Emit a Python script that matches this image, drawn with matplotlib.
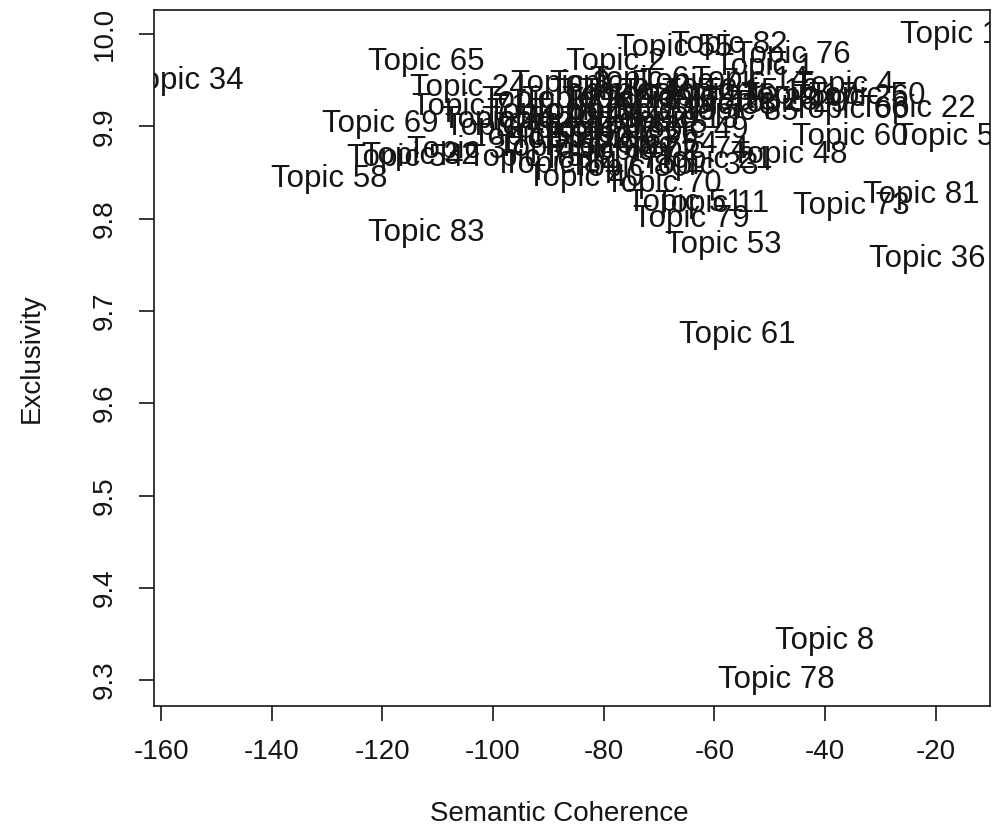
import matplotlib
matplotlib.use("Agg")
import matplotlib.pyplot as plt

# topic quality: semantic coherence vs exclusivity per topic
topics = [18, 34, 65, 24, 71, 69, 58, 83, 54, 37, 32, 2, 55, 82, 76, 1,
          57, 36, 81, 73, 22, 60, 48, 21, 33, 70, 11, 51, 79, 53, 61, 8,
          78, 4, 14, 26, 50, 66, 38, 13, 49, 40,
          3, 5, 6, 7, 9, 10, 12, 15, 16, 17, 19, 20, 23, 25, 27, 28, 29,
          30, 31, 35, 39, 41, 42, 43, 44, 45, 46, 47, 52, 56, 59, 62, 63,
          64, 67, 68, 72, 74, 75, 77, 80, 84, 85]

coherence = [-16.0, -155.7, -112.0, -104.4, -104.2, -120.4, -129.7, -112.0,
             -115.9, -105.1, -113.2, -77.8, -67.2, -57.4, -46.0, -50.9,
             -16.9, -21.6, -22.7, -35.2, -23.3, -35.5, -46.4, -60.0, -62.6,
             -69.3, -60.5, -65.3, -64.1, -58.5, -55.8, -40.1, -48.9, -36.4,
             -53.6, -35.5, -32.3, -35.5, -59.4, -66.2, -64.4, -83.4,
             -87.9, -80.7, -73.5, -64.4, -80.7, -73.5, -66.3, -59.0, -51.8,
             -44.6, -91.5, -84.3, -77.1, -69.9, -62.6, -51.8, -46.4, -90.6,
             -82.5, -75.3, -69.9, -98.8, -91.5, -84.3, -77.1, -71.7, -98.2,
             -87.9, -80.7, -73.5, -93.3, -86.1, -77.1, -69.9, -88.8, -80.7,
             -73.5, -64.4, -94.2, -80.7, -75.3, -87.9, -55.4]

exclusivity = [9.999, 9.949, 9.970, 9.941, 9.921, 9.902, 9.843, 9.784,
               9.866, 9.874, 9.868, 9.970, 9.985, 9.988, 9.977, 9.964,
               9.888, 9.756, 9.826, 9.814, 9.919, 9.888, 9.869, 9.863, 9.857,
               9.837, 9.816, 9.817, 9.800, 9.771, 9.674, 9.342, 9.300, 9.945,
               9.950, 9.931, 9.933, 9.918, 9.922, 9.907, 9.896, 9.844,
               9.946, 9.946, 9.950, 9.948, 9.937, 9.937, 9.937, 9.937, 9.937,
               9.933, 9.928, 9.928, 9.928, 9.928, 9.931, 9.926, 9.924, 9.915,
               9.915, 9.915, 9.915, 9.907, 9.907, 9.907, 9.907, 9.901, 9.899,
               9.896, 9.896, 9.891, 9.888, 9.885, 9.885, 9.880, 9.876, 9.874,
               9.872, 9.874, 9.866, 9.863, 9.855, 9.858, 9.915]

x_ticks = [-160, -140, -120, -100, -80, -60, -40, -20]
y_ticks = [9.3, 9.4, 9.5, 9.6, 9.7, 9.8, 9.9, 10.0]

plt.rcParams["font.family"] = ["Liberation Sans", "DejaVu Sans"]
ink = "#151515"

fig = plt.figure(figsize=(9.93, 8.26), dpi=100)
ax = fig.add_axes([0.155, 0.1453, 0.842, 0.8426])

# one label per topic, centred on its point, clipped to the plot box
for t, cx, ex in zip(topics, coherence, exclusivity):
    ax.text(cx, ex, "Topic %d" % t, ha="center", va="center",
            fontsize=22.5, color=ink, clip_on=True)

ax.set_xlim(-161.3, -10.2)
ax.set_ylim(9.272, 10.026)

ax.set_xticks(x_ticks)
ax.set_xticklabels([str(v) for v in x_ticks])
ax.set_yticks(y_ticks)
ax.set_yticklabels(["%.1f" % v for v in y_ticks])

for s in ax.spines.values():
    s.set_linewidth(1.2)
    s.set_color(ink)

ax.tick_params(axis="both", direction="out", length=11, width=1.2,
               color=ink, labelsize=20, labelcolor=ink)
ax.tick_params(axis="x", pad=13)
ax.tick_params(axis="y", pad=15)
for lab in ax.get_yticklabels():
    lab.set_rotation(90)
    lab.set_va("center")

ax.set_xlabel("Semantic Coherence", fontsize=20, color=ink)
ax.set_ylabel("Exclusivity", fontsize=20, color=ink)
ax.xaxis.set_label_coords(0.4845, -0.136)
ax.yaxis.set_label_coords(-0.13, 0.5)

fig.savefig("out.png", dpi=100)
